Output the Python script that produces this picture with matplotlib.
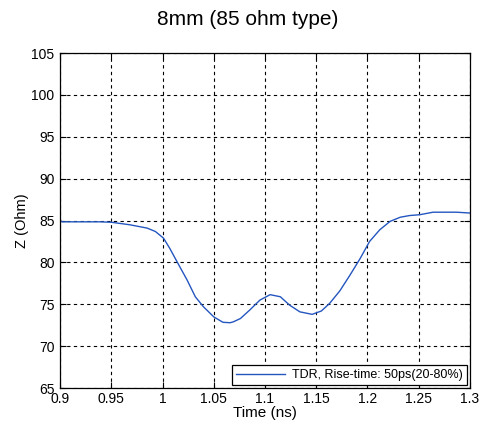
import matplotlib
matplotlib.use("Agg")
import matplotlib.pyplot as plt

# TDR impedance trace
time_ns = [0.900, 0.902, 0.939, 0.950, 0.968, 0.985, 0.993, 1.001, 1.007, 1.015,
           1.024, 1.032, 1.040, 1.050, 1.059, 1.066, 1.069, 1.076, 1.085, 1.095,
           1.105, 1.115, 1.124, 1.134, 1.146, 1.155, 1.163, 1.173, 1.183, 1.193,
           1.202, 1.212, 1.222, 1.232, 1.241, 1.251, 1.264, 1.287, 1.300]
z_ohm = [85.0, 84.85, 84.85, 84.8, 84.5, 84.1, 83.7, 82.9, 81.7, 79.9,
         77.9, 75.9, 74.7, 73.5, 72.85, 72.8, 72.9, 73.3, 74.3, 75.5,
         76.15, 75.9, 74.9, 74.1, 73.8, 74.2, 75.1, 76.6, 78.5, 80.5,
         82.5, 83.9, 84.9, 85.4, 85.6, 85.7, 86.0, 86.0, 85.9]

title = "8mm (85 ohm type)"
legend_label = "TDR, Rise-time: 50ps(20-80%)"
x_ticks = [0.9, 0.95, 1, 1.05, 1.1, 1.15, 1.2, 1.25, 1.3]
x_tick_labels = ["0.9", "0.95", "1", "1.05", "1.1", "1.15", "1.2", "1.25", "1.3"]
y_ticks = [65, 70, 75, 80, 85, 90, 95, 100, 105]

plt.rcParams['font.family'] = ['Liberation Sans', 'DejaVu Sans']

fig = plt.figure(figsize=(4.84, 4.25), dpi=100)
ax = fig.add_axes([0.124, 0.087, 0.847, 0.788])

ax.plot(time_ns, z_ohm, color='#2456c0', linewidth=1.0, label=legend_label)

ax.set_xlim(0.9, 1.3)
ax.set_ylim(65, 105)
ax.set_xticks(x_ticks)
ax.set_xticklabels(x_tick_labels)
ax.set_yticks(y_ticks)
ax.tick_params(direction='in', length=4, width=0.8, labelsize=10,
               top=True, right=True)
ax.tick_params(axis='x', pad=3)
ax.tick_params(axis='y', pad=4)
for s in ax.spines.values():
    s.set_linewidth(0.9)

ax.grid(True, color='black', linestyle=(0, (3, 3)), linewidth=0.8)

ax.set_xlabel("Time (ns)", fontsize=11, labelpad=0)
ax.set_ylabel("Z (Ohm)", fontsize=10.5, labelpad=2)
fig.text(0.512, 0.953, title, ha='center', va='center', fontsize=15)

leg = ax.legend(loc='lower right', fontsize=9, fancybox=False, framealpha=1,
                edgecolor='black', borderaxespad=0.25, handlelength=3.9,
                borderpad=0.3, handletextpad=0.6)
leg.get_frame().set_linewidth(0.9)

fig.savefig("out.png", dpi=100)
